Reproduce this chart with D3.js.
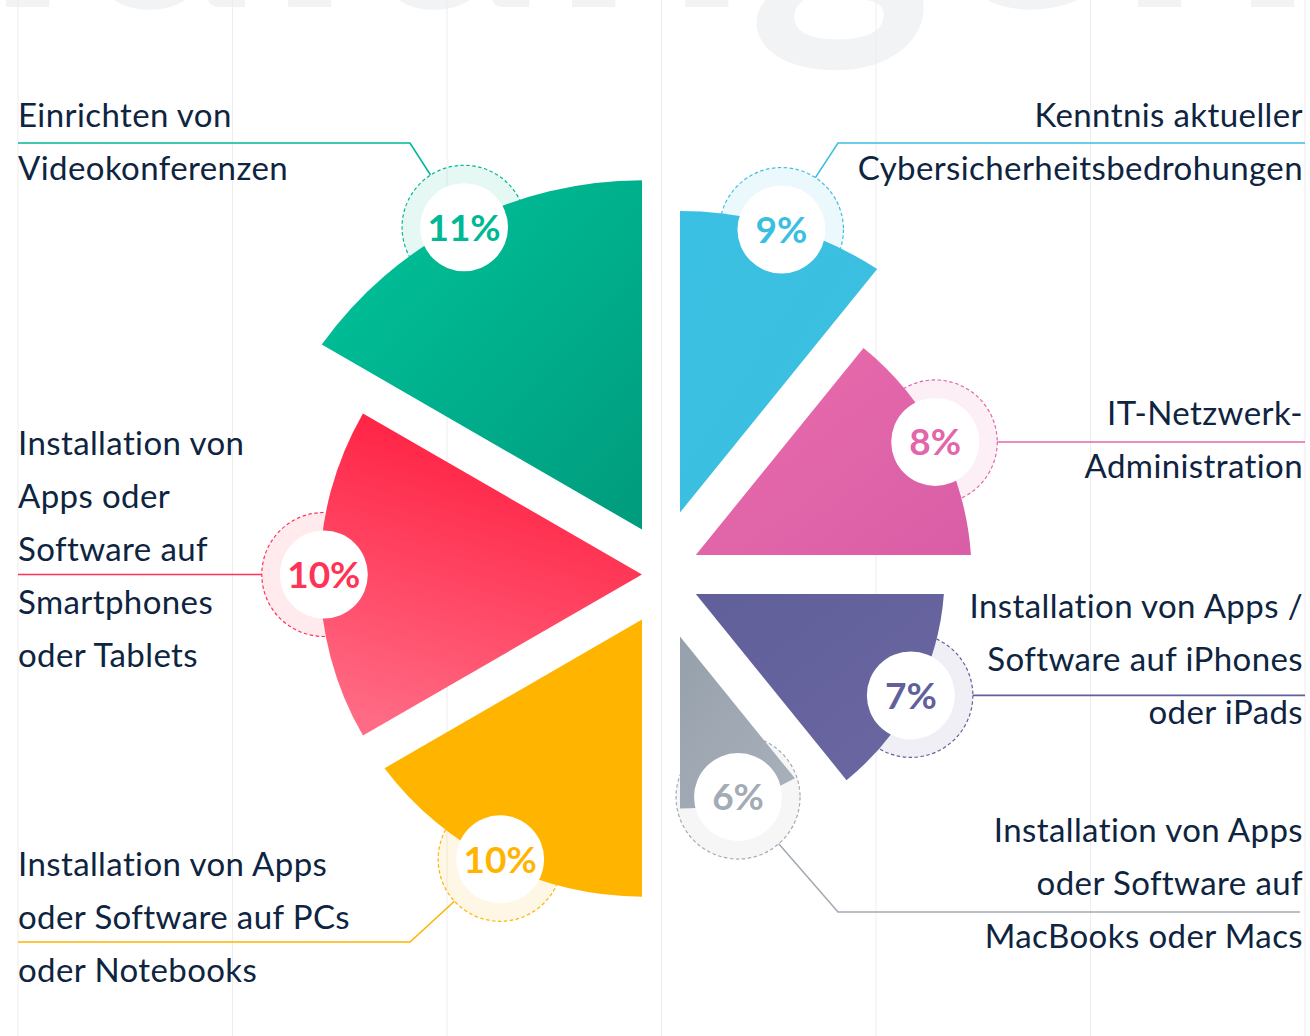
<!DOCTYPE html>
<html>
<head>
<meta charset="utf-8">
<script src="https://cdn.jsdelivr.net/npm/d3@7"></script>
<style>
html, body { margin: 0; padding: 0; background: #fff; }
svg { display: block; }
text { font-family: Lato, "Noto Sans", sans-serif; }
</style>
</head>
<body>
<svg id="chart" width="1310" height="1036"></svg>
<script>
// data
var labels = [
	["Einrichten von", "Videokonferenzen"],
	["Installation von", "Apps oder", "Software auf", "Smartphones", "oder Tablets"],
	["Installation von Apps", "oder Software auf PCs", "oder Notebooks"],
	["Kenntnis aktueller", "Cybersicherheitsbedrohungen"],
	["IT-Netzwerk-", "Administration"],
	["Installation von Apps /", "Software auf iPhones", "oder iPads"],
	["Installation von Apps", "oder Software auf", "MacBooks oder Macs"]
];
var shares = [11, 10, 10, 9, 8, 7, 6];
// wedge length as drawn in the picture, in the same % units
var drawnLength = [10.95, 8.95, 8.95, 10.1, 8.1, 7.35, 6.5];
var watermark = "Schulungen";

// styles
var colors = ["#00b894", "#ff3355", "#ffb400", "#3bbfe1", "#e266a9", "#625f9b", "#a3abb5"];
var gradFrom = ["#00c59c", "#ff1a3c", "#ffb500", "#3ac0e3", "#e86cab", "#615f9a", "#96a0ab"];
var gradTo = ["#009b7d", "#ff6b85", "#ffb500", "#3dbfdf", "#da5ea6", "#6a67a1", "#a9b1bb"];

var W = 1310, H = 1036;
var svg = d3.select("#chart");
var rad = Math.PI / 180;

// layout of the two halves
var midX = 661, midY = 574.5, halfGap = 19, wedgeGap = 39;
var spans = [[-60, 0], [-120, -60], [-180, -120], [0, 39], [39, 90], [90, 141], [141, 180]];
var rScale = d3.scaleLinear().domain([0, 11]).range([0, 396]);

var defs = svg.append("defs");
gradFrom.forEach(function(c, i) {
	var g = defs.append("linearGradient").attr("id", "grad" + i)
		.attr("x1", i == 1 ? 0.6 : 0).attr("y1", 0)
		.attr("x2", i == 1 ? 0.3 : 1).attr("y2", 1);
	g.append("stop").attr("offset", 0).attr("stop-color", c);
	g.append("stop").attr("offset", 1).attr("stop-color", gradTo[i]);
});

// background grid
svg.append("g").selectAll("line").data(d3.range(7)).enter().append("line")
	.attr("x1", function(d) { return 18 + d * 214.5; })
	.attr("x2", function(d) { return 18 + d * 214.5; })
	.attr("y1", 0).attr("y2", H)
	.attr("stroke", "#ededf0").attr("stroke-width", 1);

// big faint word at the top (cut off)
var wm = svg.insert("text", "g").text(watermark)
	.attr("x", 0).attr("y", 7)
	.attr("font-size", 350).attr("font-weight", 700)
	.attr("fill", "#f2f3f5");
var gx = wm.node().getStartPositionOfChar(watermark.indexOf("g")).x;
wm.attr("x", 748 - gx);

// which wedge takes the gap on a shared edge
var mids = spans.map(function(s) { return (s[0] + s[1]) / 2; });
function distFromHoriz(m) { return Math.abs(Math.abs(m) - 90); }
function edgeOffset(i, a) {
	if (Math.abs(a) < 0.001 || Math.abs(Math.abs(a) - 180) < 0.001) return 0;
	var j = spans.findIndex(function(s, k) { return k != i && (s[0] == a || s[1] == a); });
	var di = distFromHoriz(mids[i]), dj = distFromHoriz(mids[j]);
	if (Math.abs(di - dj) < 0.001) return wedgeGap / 2;
	return di > dj ? wedgeGap : 0;
}

var wedges = spans.map(function(s, i) {
	var a0 = s[0] * rad, a1 = s[1] * rad;
	var o0 = edgeOffset(i, s[0]), o1 = edgeOffset(i, s[1]);
	var cx = mids[i] < 0 ? midX - halfGap : midX + halfGap;
	var R = rScale(drawnLength[i]);
	var det = Math.sin(a0 - a1);
	var apex = [(-o0 * Math.sin(a1) - Math.sin(a0) * o1) / det,
		(Math.cos(a0) * o1 + Math.cos(a1) * o0) / det];
	var t0 = a0 + Math.asin(o0 / R), t1 = a1 - Math.asin(o1 / R);
	var rb = R - 4;
	var b = (a0 + Math.asin(o0 / rb) + a1 - Math.asin(o1 / rb)) / 2;
	return {i: i, cx: cx, cy: midY, R: R, apex: apex, t0: t0, t1: t1,
		bx: cx + rb * Math.sin(b), by: midY - rb * Math.cos(b)};
});

function wedgePath(w) {
	var p = d3.path();
	p.moveTo(w.cx + w.apex[0], w.cy + w.apex[1]);
	p.lineTo(w.cx + w.R * Math.sin(w.t0), w.cy - w.R * Math.cos(w.t0));
	p.arc(w.cx, w.cy, w.R, w.t0 - Math.PI / 2, w.t1 - Math.PI / 2, false);
	p.closePath();
	return p.toString();
}

var outerR = 62, innerR = 44;

// halo rings behind the wedges
svg.append("g").selectAll("circle").data(wedges).enter().append("circle")
	.attr("cx", function(d) { return d.bx; })
	.attr("cy", function(d) { return d.by; })
	.attr("r", outerR)
	.attr("fill", function(d) { return colors[d.i]; })
	.attr("fill-opacity", 0.1)
	.attr("stroke", function(d) { return colors[d.i]; })
	.attr("stroke-width", 1.2)
	.attr("stroke-dasharray", "3.5 2.5");

svg.append("g").selectAll("path").data(wedges).enter().append("path")
	.attr("d", wedgePath)
	.attr("fill", function(d) { return "url(#grad" + d.i + ")"; });

// connectors
var connectors = [
	{edge: 18, y: 143, elbow: 410},
	{edge: 18},
	{edge: 18, y: 942, elbow: 410},
	{edge: 1305, y: 143, elbow: 838},
	{edge: 1305},
	{edge: 1305},
	{edge: 1300, y: 912, elbow: 838}
];
svg.append("g").selectAll("path").data(wedges).enter().append("path")
	.attr("d", function(w) {
		var c = connectors[w.i];
		var p = d3.path();
		if (c.elbow) {
			var dx = w.bx - c.elbow, dy = w.by - c.y, len = Math.sqrt(dx * dx + dy * dy);
			p.moveTo(c.edge, c.y);
			p.lineTo(c.elbow, c.y);
			p.lineTo(c.elbow + dx * (len - outerR) / len, c.y + dy * (len - outerR) / len);
		} else {
			var side = c.edge < w.bx ? -1 : 1;
			p.moveTo(c.edge, w.by);
			p.lineTo(w.bx + side * outerR, w.by);
		}
		return p.toString();
	})
	.attr("fill", "none")
	.attr("stroke", function(w) { return colors[w.i]; })
	.attr("stroke-width", 1.6);

// badges
var badge = svg.append("g").selectAll("g").data(wedges).enter().append("g")
	.attr("transform", function(d) { return "translate(" + d.bx + "," + d.by + ")"; });
badge.append("circle").attr("r", innerR).attr("fill", "#fff");
badge.append("text")
	.attr("text-anchor", "middle").attr("dy", "0.36em")
	.attr("font-size", 37).attr("font-weight", 700)
	.attr("fill", function(d) { return colors[d.i]; })
	.text(function(d) { return shares[d.i] + "%"; });

// category labels
var labelPos = [
	{x: 18, anchor: "start", y: 127},
	{x: 18, anchor: "start", y: 455},
	{x: 18, anchor: "start", y: 876},
	{x: 1303, anchor: "end", y: 127},
	{x: 1303, anchor: "end", y: 425},
	{x: 1303, anchor: "end", y: 618},
	{x: 1303, anchor: "end", y: 842}
];
var lineH = 53;
labels.forEach(function(lines, i) {
	var t = svg.append("text")
		.attr("text-anchor", labelPos[i].anchor)
		.attr("font-size", 33)
		.attr("letter-spacing", 0.4)
		.attr("fill", "#0e2440");
	lines.forEach(function(l, k) {
		t.append("tspan").attr("x", labelPos[i].x).attr("y", labelPos[i].y + k * lineH).text(l);
	});
});
</script>
</body>
</html>
